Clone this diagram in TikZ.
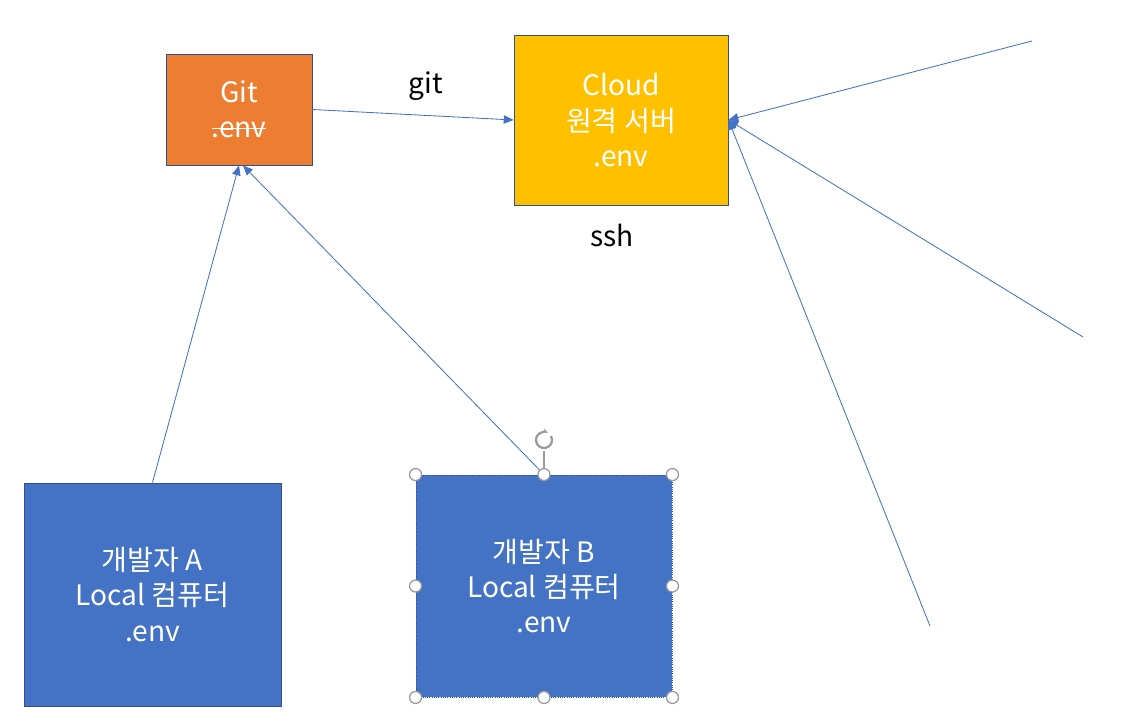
\documentclass[tikz,border=0pt]{standalone}
\usepackage{fontspec}
\setmainfont{Noto Sans CJK KR}
\usepackage{xcolor}
\usepackage{tikz}
\usetikzlibrary{positioning, arrows.meta}
\definecolor{gitorange}{HTML}{ED7D31}
\definecolor{cloudyellow}{HTML}{FFC000}
\definecolor{devblue}{HTML}{4472C4}
\definecolor{edgeblue}{HTML}{2F528F}
\definecolor{handlegray}{HTML}{9A9A9A}
\newcommand{\strk}[1]{\setbox0\hbox{#1}\rlap{\raisebox{0.32em}{\rule{\wd0}{0.7pt}}}\box0}

\begin{document}
\begin{tikzpicture}[x=0.025cm, y=-0.025cm,
    box/.style={draw=edgeblue, line width=0.6pt, text=white, align=center,
                font=\fontsize{20}{25}\selectfont, inner sep=0pt},
    link/.style={draw=devblue, line width=0.6pt, -{Triangle[length=7pt, width=6pt]}},
    handle/.style={circle, draw=handlegray, fill=white, line width=0.9pt,
                   minimum size=0.3cm, inner sep=0pt}]
    \useasboundingbox (0,0) rectangle (1129,727);

    \node[box, fill=gitorange, minimum width=3.65cm, minimum height=2.775cm]
      (git) at (239,109.5) {Git\\\strk{.env}};
    \node[box, fill=cloudyellow, minimum width=5.35cm, minimum height=4.25cm]
      (cloud) at (621,120) {Cloud\\원격 서버\\.env};
    \node[box, fill=devblue, minimum width=6.425cm, minimum height=5.575cm]
      (devA) at (152.5,594.5) {개발자 A\\Local 컴퓨터\\.env};
    \node[box, fill=devblue, densely dotted, minimum width=6.4cm, minimum height=5.55cm]
      (devB) at (544,586) {개발자 B\\Local 컴퓨터\\.env};

    \node[font=\fontsize{20}{25}\selectfont] (gitlabel) at (426,86) {git};
    \node[font=\fontsize{20}{25}\selectfont] (sshlabel) at (612,235) {ssh};

    % free ends of the ssh lines
    \coordinate (ssh1) at (1032,41);
    \coordinate (ssh2) at (1083,337);
    \coordinate (ssh3) at (930,626);

    \draw[link] (git.east) -- (cloud.west);
    \draw[link] (devA.north) -- (git.south);
    \draw[link] (devB.north) -- ([xshift=0.1cm]git.south);
    \draw[link] (ssh1) -- (cloud.east);
    \draw[link] (ssh2) -- (cloud.east);
    \draw[link] (ssh3) -- (cloud.east);

    % selection handles
    \coordinate (rot) at (544,440);
    \draw[handlegray, line width=0.9pt] (devB.north) -- (544,451);
    \draw[handlegray, line width=1.6pt, -{Stealth[length=4pt]}]
      (rot) ++(-30:8) arc (-30:300:8);
    \foreach \a in {north west, north, north east, west, east,
                    south west, south, south east}
      \node[handle] at (devB.\a) {};
\end{tikzpicture}
\end{document}
